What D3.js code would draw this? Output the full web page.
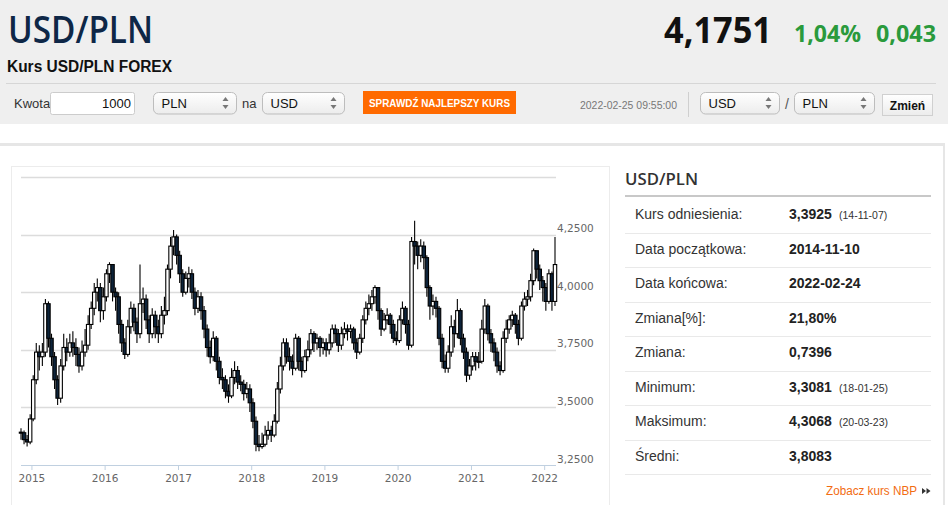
<!DOCTYPE html>
<html>
<head>
  <script src="https://d3js.org/d3.v7.min.js"></script>
  <meta charset="utf-8">
  <title>USD/PLN</title>
  <style>
    body {margin: 0; background: #fff; overflow: hidden;}
    svg {display: block; font-family: "Liberation Sans", Arial, sans-serif;}
  </style>
</head>
<body>
<div id="chart"></div>
<script>
  /* Data: semi-monthly candles from 2014-11-10 to 2022-02-24 */
  const startDate = new Date(2014, 10, 10);
  const endDate = new Date(2022, 1, 24);
  const refRate = 3.3925;
  const closes = [
    3.39, 3.36, 3.35, 3.45, 3.62, 3.74, 3.72, 3.74, 3.95, 3.80,
    3.72, 3.62, 3.54, 3.68, 3.76, 3.74, 3.78, 3.76, 3.73, 3.68,
    3.74, 3.77, 3.86, 3.93, 4.00, 4.02, 3.92, 3.98, 4.08, 4.12,
    4.00, 3.98, 3.86, 3.78, 3.73, 3.85, 3.93, 3.87, 3.82, 3.95,
    3.97, 3.88, 3.82, 3.90, 3.85, 3.82, 3.90, 3.92, 4.10, 4.20,
    4.24, 4.16, 4.08, 4.00, 4.06, 4.08, 4.00, 3.93, 3.98, 3.92,
    3.84, 3.76, 3.72, 3.80, 3.70, 3.63, 3.62, 3.57, 3.55, 3.63,
    3.66, 3.61, 3.60, 3.56, 3.58, 3.52, 3.44, 3.34, 3.33, 3.34,
    3.38, 3.40, 3.38, 3.44, 3.58, 3.68, 3.78, 3.72, 3.70, 3.67,
    3.80, 3.70, 3.66, 3.72, 3.75, 3.82, 3.78, 3.80, 3.76, 3.78,
    3.75, 3.78, 3.84, 3.82, 3.77, 3.82, 3.84, 3.83, 3.84, 3.78,
    3.74, 3.80, 3.88, 3.93, 3.95, 3.98, 4.02, 3.92, 3.84, 3.88,
    3.90, 3.86, 3.80, 3.79, 3.88, 3.93, 3.86, 3.77, 4.22, 4.20,
    4.16, 4.20, 4.15, 4.02, 3.94, 3.96, 3.93, 3.80, 3.70, 3.67,
    3.74, 3.85, 3.82, 3.92, 3.80, 3.74, 3.64, 3.68, 3.72, 3.70,
    3.70, 3.84, 3.94, 3.82, 3.78, 3.74, 3.68, 3.66, 3.80, 3.84,
    3.88, 3.90, 3.86, 3.80, 3.94, 3.97, 3.98, 4.05, 4.18, 4.10,
    4.05, 4.02, 3.96, 4.08, 3.96, 4.12
  ];
  const highs = [
    3.41, 3.40, 3.38, 3.47, 3.64, 3.78, 3.77, 3.78, 3.97, 3.96,
    3.82, 3.74, 3.64, 3.71, 3.82, 3.80, 3.82, 3.83, 3.80, 3.76,
    3.79, 3.84, 3.90, 3.96, 4.04, 4.06, 4.04, 4.02, 4.10, 4.13,
    4.12, 4.02, 4.00, 3.88, 3.80, 3.88, 3.96, 3.95, 3.89, 4.12,
    4.02, 3.99, 3.90, 3.93, 3.92, 3.88, 3.94, 3.98, 4.12, 4.24,
    4.27, 4.25, 4.18, 4.10, 4.09, 4.11, 4.10, 4.02, 4.01, 4.00,
    3.94, 3.86, 3.79, 3.83, 3.81, 3.72, 3.67, 3.64, 3.60, 3.67,
    3.70, 3.68, 3.64, 3.62, 3.61, 3.60, 3.54, 3.46, 3.38, 3.39,
    3.42, 3.44, 3.42, 3.47, 3.61, 3.72, 3.80, 3.80, 3.76, 3.73,
    3.82, 3.81, 3.72, 3.75, 3.79, 3.84, 3.83, 3.82, 3.81, 3.80,
    3.80, 3.82, 3.86, 3.86, 3.84, 3.85, 3.87, 3.86, 3.86, 3.85,
    3.80, 3.82, 3.90, 3.96, 3.99, 4.01, 4.03, 4.02, 3.93, 3.91,
    3.93, 3.91, 3.88, 3.83, 3.90, 3.96, 3.94, 3.88, 4.24, 4.31,
    4.22, 4.23, 4.22, 4.16, 4.03, 3.99, 3.98, 3.94, 3.82, 3.73,
    3.77, 3.90, 3.88, 3.97, 3.93, 3.82, 3.76, 3.71, 3.74, 3.74,
    3.74, 3.88, 3.97, 3.95, 3.84, 3.80, 3.76, 3.70, 3.83, 3.88,
    3.90, 3.92, 3.91, 3.88, 3.96, 4.00, 4.01, 4.08, 4.19, 4.18,
    4.12, 4.07, 4.04, 4.10, 4.09, 4.24
  ];
  const lows = [
    3.36, 3.34, 3.33, 3.34, 3.44, 3.60, 3.66, 3.68, 3.72, 3.76,
    3.68, 3.58, 3.51, 3.52, 3.66, 3.70, 3.72, 3.72, 3.68, 3.65,
    3.66, 3.72, 3.75, 3.84, 3.90, 3.96, 3.87, 3.88, 3.96, 4.04,
    3.96, 3.92, 3.82, 3.74, 3.71, 3.72, 3.82, 3.83, 3.78, 3.80,
    3.91, 3.84, 3.78, 3.80, 3.80, 3.78, 3.80, 3.86, 3.90, 4.06,
    4.16, 4.12, 4.04, 3.98, 3.99, 4.02, 3.97, 3.90, 3.91, 3.88,
    3.80, 3.72, 3.69, 3.70, 3.66, 3.60, 3.58, 3.54, 3.52, 3.54,
    3.60, 3.58, 3.57, 3.53, 3.54, 3.48, 3.41, 3.31, 3.31, 3.32,
    3.33, 3.36, 3.35, 3.37, 3.43, 3.56, 3.66, 3.69, 3.66, 3.64,
    3.66, 3.66, 3.63, 3.65, 3.70, 3.73, 3.74, 3.75, 3.72, 3.73,
    3.72, 3.73, 3.76, 3.78, 3.74, 3.75, 3.80, 3.79, 3.80, 3.75,
    3.71, 3.73, 3.78, 3.86, 3.90, 3.92, 3.95, 3.88, 3.81, 3.83,
    3.86, 3.82, 3.78, 3.77, 3.78, 3.86, 3.82, 3.75, 3.76, 4.12,
    4.10, 4.13, 4.10, 3.98, 3.88, 3.90, 3.89, 3.77, 3.67, 3.65,
    3.65, 3.72, 3.76, 3.80, 3.77, 3.71, 3.61, 3.62, 3.66, 3.66,
    3.67, 3.69, 3.82, 3.79, 3.74, 3.70, 3.65, 3.64, 3.65, 3.78,
    3.82, 3.85, 3.82, 3.77, 3.79, 3.92, 3.94, 3.96, 4.03, 4.06,
    4.01, 3.96, 3.92, 3.95, 3.92, 3.94
  ];
  const yTicks = [3.25, 3.5, 3.75, 4.0, 4.25];
  const gridTicks = [3.5, 3.75, 4.0, 4.25, 4.5];
  const xYears = [2015, 2016, 2017, 2018, 2019, 2020, 2021, 2022];

  const statLabels = ["Kurs odniesienia:", "Data początkowa:", "Data końcowa:", "Zmiana[%]:", "Zmiana:", "Minimum:", "Maksimum:", "Średni:"];
  const statValues = ["3,3925", "2014-11-10", "2022-02-24", "21,80%", "0,7396", "3,3081", "4,3068", "3,8083"];
  const statNotes = ["(14-11-07)", "", "", "", "", "(18-01-25)", "(20-03-23)", ""];

  /* Build candles: open is the previous close */
  const step = (endDate - startDate) / (closes.length - 1);
  const candles = closes.map((c, i) => ({
    date: new Date(+startDate + i * step),
    open: i === 0 ? refRate : closes[i - 1],
    close: c, high: highs[i], low: lows[i]
  }));

  const W = 948, H = 505;
  const svg = d3.select("#chart").append("svg").attr("width", W).attr("height", H);

  const defs = svg.append("defs");
  const grad = defs.append("linearGradient").attr("id", "sel").attr("x1", 0).attr("y1", 0).attr("x2", 0).attr("y2", 1);
  grad.append("stop").attr("offset", "0%").attr("stop-color", "#ffffff");
  grad.append("stop").attr("offset", "100%").attr("stop-color", "#ececec");

  /* Header */
  svg.append("rect").attr("width", W).attr("height", 124).attr("fill", "#efefef");
  svg.append("text").attr("x", 8).attr("y", 43)
     .attr("font-family", "'Open Sans', sans-serif").attr("font-weight", 600).attr("font-size", 38)
     .attr("textLength", 145).attr("lengthAdjust", "spacingAndGlyphs")
     .attr("fill", "#0e2747").text("USD/PLN");
  svg.append("text").attr("x", 7).attr("y", 72).attr("font-weight", "bold").attr("font-size", 16)
     .attr("textLength", 165).attr("lengthAdjust", "spacingAndGlyphs")
     .attr("fill", "#111").text("Kurs USD/PLN FOREX");

  svg.append("text").attr("x", 664).attr("y", 43)
     .attr("font-family", "'Open Sans', sans-serif").attr("font-weight", 700).attr("font-size", 36)
     .attr("textLength", 108).attr("lengthAdjust", "spacingAndGlyphs")
     .attr("fill", "#111").text("4,1751");
  svg.append("text").attr("x", 794).attr("y", 42)
     .attr("font-family", "'Open Sans', sans-serif").attr("font-weight", 700).attr("font-size", 23)
     .attr("textLength", 67).attr("lengthAdjust", "spacingAndGlyphs")
     .attr("fill", "#2a9a3c").text("1,04%");
  svg.append("text").attr("x", 876).attr("y", 42)
     .attr("font-family", "'Open Sans', sans-serif").attr("font-weight", 700).attr("font-size", 23)
     .attr("textLength", 60).attr("lengthAdjust", "spacingAndGlyphs")
     .attr("fill", "#2a9a3c").text("0,043");

  svg.append("line").attr("x1", 6).attr("x2", 936).attr("y1", 83.5).attr("y2", 83.5)
     .attr("stroke", "#d6d6d6");

  /* Controls row */
  svg.append("text").attr("x", 14).attr("y", 108).attr("font-size", 13).attr("fill", "#333").text("Kwota");
  svg.append("rect").attr("x", 50.5).attr("y", 92.5).attr("width", 84).attr("height", 22).attr("rx", 2)
     .attr("fill", "#fff").attr("stroke", "#ccc");
  svg.append("text").attr("x", 131).attr("y", 108).attr("font-size", 13).attr("text-anchor", "end")
     .attr("fill", "#111").text("1000");

  const selects = [
    {x: 153.5, w: 83, label: "PLN"},
    {x: 262.5, w: 82, label: "USD"},
    {x: 700.5, w: 79, label: "USD"},
    {x: 794.5, w: 80, label: "PLN"}
  ];
  const sel = svg.selectAll(".sel").data(selects).enter().append("g").attr("class", "sel");
  sel.append("rect").attr("x", d => d.x).attr("y", 92.5).attr("width", d => d.w).attr("height", 21.5)
     .attr("rx", 5).attr("fill", "url(#sel)").attr("stroke", "#bdbdbd");
  sel.append("text").attr("x", d => d.x + 8).attr("y", 107.5).attr("font-size", 13)
     .attr("fill", "#111").text(d => d.label);
  sel.append("path").attr("fill", "#777")
     .attr("d", d => {
       const cx = d.x + d.w - 11;
       return `M${cx - 3},101 L${cx + 3},101 L${cx},97 Z M${cx - 3},105 L${cx + 3},105 L${cx},109 Z`;
     });

  svg.append("text").attr("x", 242).attr("y", 108).attr("font-size", 13).attr("fill", "#333").text("na");
  svg.append("text").attr("x", 785).attr("y", 109).attr("font-size", 14).attr("fill", "#555").text("/");

  svg.append("rect").attr("x", 363).attr("y", 91).attr("width", 153).attr("height", 23).attr("fill", "#ff6a00");
  svg.append("text").attr("x", 369).attr("y", 106.5).attr("font-weight", "bold").attr("font-size", 11.5)
     .attr("font-family", "'Liberation Sans Narrow', 'Liberation Sans', Arial, sans-serif")
     .attr("textLength", 141).attr("lengthAdjust", "spacingAndGlyphs")
     .attr("fill", "#fff").text("SPRAWDŹ NAJLEPSZY KURS");

  svg.append("text").attr("x", 580).attr("y", 109).attr("font-size", 11.5)
     .attr("textLength", 97).attr("lengthAdjust", "spacingAndGlyphs")
     .attr("fill", "#777").text("2022-02-25 09:55:00");
  svg.append("line").attr("x1", 688.5).attr("x2", 688.5).attr("y1", 92).attr("y2", 117).attr("stroke", "#cfcfcf");

  svg.append("rect").attr("x", 882.5).attr("y", 94.5).attr("width", 50).attr("height", 21)
     .attr("fill", "url(#sel)").attr("stroke", "#d0d0d0");
  svg.append("text").attr("x", 907.5).attr("y", 109.5).attr("text-anchor", "middle")
     .attr("font-weight", "bold").attr("font-size", 12).attr("fill", "#111").text("Zmień");

  /* Content panel */
  svg.append("rect").attr("x", 0).attr("y", 143).attr("width", 945).attr("height", 3).attr("fill", "#e6e6e6");
  svg.append("rect").attr("x", 943).attr("y", 143).attr("width", 2).attr("height", H - 143).attr("fill", "#e6e6e6");
  svg.append("rect").attr("x", 11.5).attr("y", 166.5).attr("width", 598).attr("height", 360)
     .attr("fill", "#fff").attr("stroke", "#ececec");

  /* Scales */
  const x = d3.scaleTime().domain([startDate, endDate]).range([21, 555]);
  const y = d3.scaleLinear().domain([3.25, 4.5]).range([465, 177]);

  const plot = svg.append("g");
  plot.selectAll(".grid").data(gridTicks).enter().append("line")
      .attr("x1", 21).attr("x2", 556)
      .attr("y1", d => Math.round(y(d)) + 0.5).attr("y2", d => Math.round(y(d)) + 0.5)
      .attr("stroke", "#dcdcdc").attr("stroke-width", 1.3);

  const xAxis = plot.append("g").attr("transform", "translate(0,465)")
      .call(d3.axisBottom(x).tickValues(xYears.map(yr => new Date(yr, 0, 1)))
              .tickFormat(d3.timeFormat("%Y")).tickSize(5).tickPadding(5));
  xAxis.select(".domain").attr("stroke", "#c0d0e0").attr("d", "M21,0.5H556");
  xAxis.selectAll(".tick line").attr("stroke", "#c0d0e0");
  xAxis.selectAll(".tick text").attr("fill", "#666").attr("font-size", 10.5)
       .attr("font-family", "'DejaVu Sans', sans-serif");

  plot.selectAll(".ylab").data(yTicks).enter().append("text")
      .attr("x", 557).attr("y", d => y(d) - 2.5)
      .attr("font-family", "'DejaVu Sans', sans-serif").attr("font-size", 10.5).attr("fill", "#666")
      .text(d => d3.format(".4f")(d).replace(".", ","));

  /* Candlesticks */
  const bw = 3.4;
  const cg = plot.selectAll(".candle").data(candles).enter().append("g").attr("class", "candle");
  cg.append("line")
    .attr("x1", d => x(d.date)).attr("x2", d => x(d.date))
    .attr("y1", d => y(d.high)).attr("y2", d => y(d.low))
    .attr("stroke", "#000").attr("stroke-width", 1.1);
  cg.append("rect")
    .attr("x", d => x(d.date) - bw / 2)
    .attr("y", d => y(Math.max(d.open, d.close)))
    .attr("width", bw)
    .attr("height", d => Math.max(1, Math.abs(y(d.open) - y(d.close))))
    .attr("fill", d => d.close >= d.open ? "#fff" : "#0d233a")
    .attr("stroke", "#000").attr("stroke-width", 1.1);

  /* Stats table */
  svg.append("text").attr("x", 625).attr("y", 185)
     .attr("font-family", "'Open Sans', sans-serif").attr("font-weight", 600).attr("font-size", 16.5)
     .attr("textLength", 73).attr("lengthAdjust", "spacingAndGlyphs")
     .attr("fill", "#333").text("USD/PLN");
  svg.append("rect").attr("x", 625).attr("y", 195).attr("width", 306).attr("height", 2).attr("fill", "#c8c8c8");

  const rowY = d3.scaleLinear().domain([0, 1]).range([214, 248.5]);
  const rows = svg.selectAll(".row").data(statLabels).enter().append("g").attr("class", "row");
  rows.append("text").attr("x", 635).attr("y", (d, i) => rowY(i) + 5)
      .attr("font-size", 14).attr("fill", "#333").text(d => d);
  rows.append("text").attr("x", 789).attr("y", (d, i) => rowY(i) + 5)
      .attr("font-size", 14).attr("font-weight", "bold").attr("fill", "#222").text((d, i) => statValues[i]);
  rows.append("text").attr("x", 839).attr("y", (d, i) => rowY(i) + 5)
      .attr("font-size", 10.5).attr("fill", "#333").text((d, i) => statNotes[i]);
  rows.append("line").attr("x1", 625).attr("x2", 931)
      .attr("y1", (d, i) => Math.round(rowY(i) + 18.5) + 0.5).attr("y2", (d, i) => Math.round(rowY(i) + 18.5) + 0.5)
      .attr("stroke", "#e9e9e9");

  svg.append("text").attr("x", 826).attr("y", 495).attr("font-size", 12)
     .attr("textLength", 91).attr("lengthAdjust", "spacingAndGlyphs")
     .attr("fill", "#f26c12").text("Zobacz kurs NBP");
  svg.append("path").attr("fill", "#333")
     .attr("d", "M922,488 L926,491 L922,494 Z M926.5,488 L930.5,491 L926.5,494 Z");
</script>
</body>
</html>
